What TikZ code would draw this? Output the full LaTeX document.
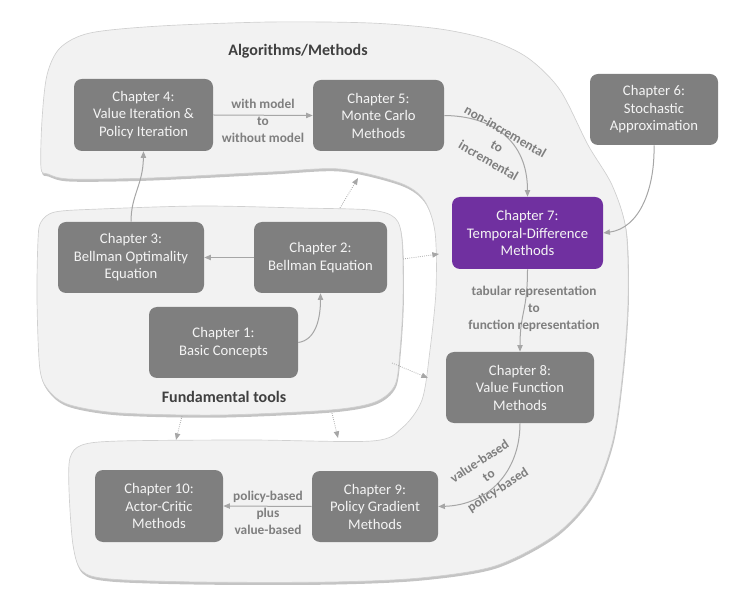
\documentclass[tikz,border=0pt]{standalone}
\usepackage{fontspec}
\setmainfont{Carlito}
\usetikzlibrary{arrows.meta}
\definecolor{boxgray}{HTML}{7F7F7F}
\definecolor{tdpurple}{HTML}{7030A0}
\definecolor{blobfill}{HTML}{F2F2F2}
\definecolor{blobline}{HTML}{D0D0D0}
\definecolor{shadowc}{HTML}{C4C4C4}
\definecolor{arrowc}{HTML}{A6A6A6}
\definecolor{labelc}{HTML}{7F7F7F}
\definecolor{titlec}{HTML}{404040}
\definecolor{textc}{HTML}{F4F4F4}
\begin{document}
\begin{tikzpicture}[x=0.75pt,y=-0.75pt,
  chap/.style={rectangle, rounded corners=6pt, fill=boxgray, text=textc, align=center,
    font=\fontsize{11}{13.1}\selectfont, inner sep=1pt},
  arr/.style={draw=arrowc, line width=0.75pt, -{Triangle[length=5pt,width=4pt]}},
  dotarr/.style={draw=arrowc, line width=0.6pt, densely dotted, -{Triangle[length=5pt,width=4pt]}},
  lbl/.style={text=labelc, font=\bfseries\fontsize{10}{12.6}\selectfont, align=center, inner sep=0pt},
  blobtitle/.style={text=titlec, font=\bfseries\fontsize{12}{14}\selectfont},
  blob/.style={fill=blobfill, draw=blobline, line width=0.5pt},
  blobshadow/.style={fill=shadowc, draw=none}]
\useasboundingbox (0,0) rectangle (731,605);

% big C-shaped region (shadow, then body)
\path[blobshadow, shift={(0.8,2.6)}] plot[smooth cycle, tension=0.5] coordinates {
 (41,168) (42,120) (47,75) (60,48) (90,33) (160,26) (270,22) (370,23) (440,29) (490,40)
 (528,58) (560,90) (588,145) (612,185) (626,230) (628,300) (623,370) (613,440) (592,495)
 (555,535) (495,566) (420,578) (330,582) (200,582) (110,579) (82,571) (73,545) (69,490)
 (70,458) (82,445) (120,441) (250,440) (372,441) (402,428) (422,400) (430,350) (436,290)
 (435,232) (424,200) (400,183) (340,169) (270,172) (150,178) (70,179) (48,174)};
\path[blob] plot[smooth cycle, tension=0.5] coordinates {
 (41,168) (42,120) (47,75) (60,48) (90,33) (160,26) (270,22) (370,23) (440,29) (490,40)
 (528,58) (560,90) (588,145) (612,185) (626,230) (628,300) (623,370) (613,440) (592,495)
 (555,535) (495,566) (420,578) (330,582) (200,582) (110,579) (82,571) (73,545) (69,490)
 (70,458) (82,445) (120,441) (250,440) (372,441) (402,428) (422,400) (430,350) (436,290)
 (435,232) (424,200) (400,183) (340,169) (270,172) (150,178) (70,179) (48,174)};

% fundamental tools region
\path[blobshadow, shift={(0.8,2.6)}] plot[smooth cycle, tension=0.5] coordinates {
 (38,240) (41,222) (55,212) (100,209) (200,206) (300,208) (370,210) (395,218) (402,240)
 (403,300) (400,350) (395,385) (375,402) (330,410) (220,415) (120,413) (70,405) (50,392)
 (40,370) (37,300)};
\path[blob] plot[smooth cycle, tension=0.5] coordinates {
 (38,240) (41,222) (55,212) (100,209) (200,206) (300,208) (370,210) (395,218) (402,240)
 (403,300) (400,350) (395,385) (375,402) (330,410) (220,415) (120,413) (70,405) (50,392)
 (40,370) (37,300)};

% titles
\node[blobtitle] (talg) at (298,51) {Algorithms/Methods};
\node[blobtitle] (tfun) at (224,397) {Fundamental tools};

% chapters
\node[chap, minimum width=104.25pt, minimum height=54pt] (ch4) at (143.5,115) {Chapter 4:\\Value Iteration \&\\Policy Iteration};
\node[chap, minimum width=98.25pt, minimum height=53.25pt] (ch5) at (378.5,115.5) {Chapter 5:\\Monte Carlo\\Methods};
\node[chap, minimum width=96pt, minimum height=53.25pt] (ch6) at (654,109.5) {Chapter 6:\\Stochastic\\Approximation};
\node[chap, fill=tdpurple, minimum width=113.25pt, minimum height=54pt] (ch7) at (527.5,233) {Chapter 7:\\Temporal-Difference\\Methods};
\node[chap, minimum width=111pt, minimum height=53.25pt] (ch8) at (520,387.5) {Chapter 8:\\Value Function\\Methods};
\node[chap, minimum width=94.5pt, minimum height=53.25pt] (ch9) at (375,506.5) {Chapter 9:\\Policy Gradient\\Methods};
\node[chap, minimum width=96pt, minimum height=54pt] (ch10) at (159,506) {Chapter 10:\\Actor-Critic\\Methods};
\node[chap, minimum width=109.5pt, minimum height=53.25pt] (ch3) at (131,257.5) {Chapter 3:\\Bellman Optimality\\Equation};
\node[chap, minimum width=99.75pt, minimum height=53.25pt] (ch2) at (320.5,257.5) {Chapter 2:\\Bellman Equation};
\node[chap, minimum width=111.75pt, minimum height=53.25pt] (ch1) at (223.5,342.5) {Chapter 1:\\Basic Concepts};

% solid connectors
\draw[arr] (ch4.east) -- (ch5.west);
\draw[arr] (ch2.west) -- (ch3.east);
\draw[arr] (ch9.west) -- (ch10.east);
\draw[arr] (ch3.north) .. controls (131,195) and (143,185) .. (ch4.south);
\draw[arr] (ch1.east) .. controls (316,340) and (320.5,318) .. (ch2.south);
\draw[arr] (ch5.east) .. controls (492,116) and (527.5,140) .. (ch7.north);
\draw[arr] (ch6.south) .. controls (655,188) and (640,228) .. (ch7.east);
\draw[arr] (ch7.south) .. controls (527.5,312) and (520,312) .. (ch8.north);
\draw[arr] (ch8.south) .. controls (520,472) and (488,505) .. (ch9.east);

% connector labels
\node[lbl] (l45) at (263,121) {with model\\to\\without model};
\node[lbl, rotate=-30] (l57) at (497,146) {non-incremental\\to\\incremental};
\node[lbl] (l78) at (534,309) {tabular representation\\to\\function representation};
\node[lbl, rotate=33] (l89) at (489,476) {value-based\\to\\policy-based};
\node[lbl] (l910) at (268,513) {policy-based\\plus\\value-based};

% dotted connectors from the fundamental tools
\coordinate (f1) at (340,208); \coordinate (a1) at (358,178);
\coordinate (f2) at (403,259); \coordinate (a2) at (439,254);
\coordinate (f3) at (392,363); \coordinate (a3) at (428,378);
\coordinate (f4) at (182,416); \coordinate (a4) at (176,440);
\coordinate (f5) at (332,413); \coordinate (a5) at (338,438);
\draw[dotarr] (f1) -- (a1);
\draw[dotarr] (f2) -- (a2);
\draw[dotarr] (f3) -- (a3);
\draw[dotarr] (f4) -- (a4);
\draw[dotarr] (f5) -- (a5);
\end{tikzpicture}
\end{document}
